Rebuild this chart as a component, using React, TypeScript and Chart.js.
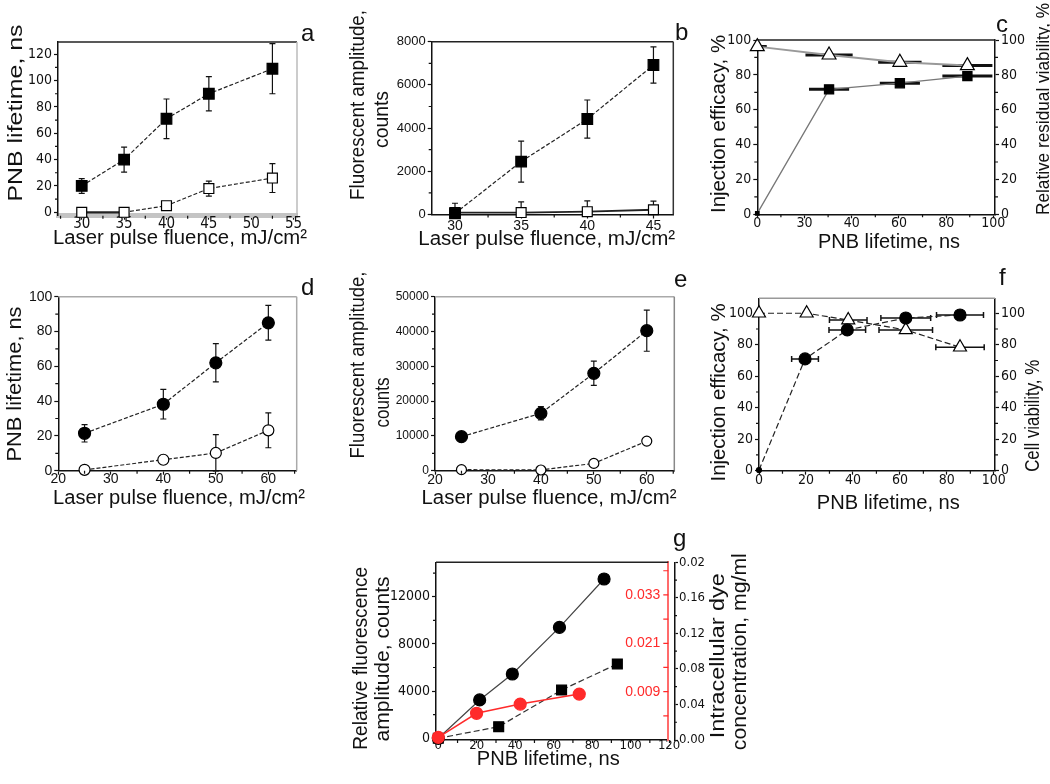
import React, { useEffect, useRef } from 'react';
import { Chart, registerables } from 'chart.js';
Chart.register(...registerables);

const FONT = '"Liberation Sans", Arial, sans-serif';
const NARROW = '"Liberation Sans Narrow", "Arial Narrow", "DejaVu Sans Condensed", sans-serif';
const INK = '#111';
const RED = '#ff2a2a';

// ---------------- Panel a ----------------
const aFluence = [30, 35, 40, 45, 52.5];
const aFilled = [20, 40, 71, 90, 109];
const aFilledErr = [5.6, 9.5, 15, 13, 19];
const aOpen = [0, 0, 5, 18, 26];
const aOpenErr = [0, 0, 3, 5.7, 11];
const aXTicks = [30, 35, 40, 45, 50, 55];
const aYTicks = [0, 20, 40, 60, 80, 100, 120];

// ---------------- Panel b ----------------
const bFluence = [30, 35, 40, 45];
const bFilled = [50, 2450, 4420, 6920];
const bFilledErr = [0, 950, 880, 840];
const bOpen = [90, 90, 130, 220];
const bOpenErr = [430, 490, 500, 400];
const bXTicks = [30, 35, 40, 45];
const bYTicks = [0, 2000, 4000, 6000, 8000];

// ---------------- Panel c ----------------
const cLifetime = [0, 30.4, 60.4, 89];
const cEfficacy = [0.5, 71.7, 75.2, 79.3];
const cEfficacyXErr = [0, 8.5, 8.5, 10.6];
const cViability = [96.2, 91.4, 87.2, 85.3];
const cViabilityXErr = [4, 10, 9.2, 10.6];
const cXTicks = [0, 20, 40, 60, 80, 100];
const cXLabels = ['0', '30', '40', '60', '80', '100'];
const cYTicks = [0, 20, 40, 60, 80, 100];

// ---------------- Panel d ----------------
const dFluence = [25, 40, 50, 60];
const dFilled = [21.5, 38.2, 62, 85];
const dFilledErr = [5, 8.5, 11, 10];
const dOpen = [0.5, 6.3, 10.2, 23.2];
const dOpenErr = [0.5, 2.5, 10.5, 10];
const dXTicks = [20, 30, 40, 50, 60];
const dYTicks = [0, 20, 40, 60, 80, 100];

// ---------------- Panel e ----------------
const eFluence = [25, 40, 50, 60];
const eFilled = [9770, 16490, 27990, 40230];
const eFilledErr = [700, 1900, 3500, 5900];
const eOpen = [300, 200, 2100, 8500];
const eOpenErr = [0, 0, 1000, 700];
const eXTicks = [20, 30, 40, 50, 60];
const eYTicks = [0, 10000, 20000, 30000, 40000, 50000];

// ---------------- Panel f ----------------
const fEffLifetime = [0, 19.6, 37.6, 62.5, 85.6];
const fEfficacy = [0.4, 71, 89.4, 97, 98.9];
const fEfficacyXErr = [0, 5.7, 7.8, 10.6, 10];
const fViaLifetime = [0, 20.3, 38, 62.5, 85.6];
const fViability = [100, 100, 95.7, 89.4, 78.4];
const fViabilityXErr = [0, 0, 8, 11.4, 10.3];
const fXTicks = [0, 20, 40, 60, 80, 100];
const fYTicks = [0, 20, 40, 60, 80, 100];

// ---------------- Panel g ----------------
const gCircLifetime = [0, 21.5, 38.5, 63, 86.2];
const gCircAmp = [0, 3250, 5450, 9400, 13500];
const gSqLifetime = [0, 31.4, 64.1, 93.1];
const gSqAmp = [0, 985, 4090, 6300];
const gRedLifetime = [0, 19.9, 42.6, 73.3];
const gRedAmp = [85, 2120, 2900, 3750];
const gXTicks = [0, 20, 40, 60, 80, 100, 120];
const gYTicks = [0, 4000, 8000, 12000];
const gConcTicks = [0, 0.04, 0.08, 0.12, 0.16, 0.2];
const gConcLabels = ['0.00', '0.04', '0.08', '0.12', '0.16', '0.02'];
const gRedTicks = [0.009, 0.021, 0.033];
const gRedLabels = ['0.009', '0.021', '0.033'];

// ---------------- helpers ----------------
const pts = (xs: number[], ys: number[]) => xs.map((x, i) => ({ x, y: ys[i] }));

function minorsOf(t: number[], lo: number, hi: number) {
  const s = t[1] - t[0];
  const out: number[] = [];
  for (let k = -1; k < t.length; k++) {
    const v = t[0] + (k + 0.5) * s;
    if (v >= lo - 1e-9 && v <= hi + 1e-9) out.push(v);
  }
  return out;
}

type AxOpt = {
  pos: 'left' | 'right' | 'bottom';
  min: number;
  max: number;
  ticks: number[];
  labels?: string[];
  size: number;
  font?: string;
  fontSize?: number;
  color?: string;
  border?: string;
  borderWidth?: number;
  tickLen?: number;
  pad?: number;
  weight?: number;
  mirror?: boolean;
  noTicks?: boolean;
};

function axis(o: AxOpt) {
  const horiz = o.pos === 'bottom';
  return {
    type: 'linear',
    position: o.pos,
    min: o.min,
    max: o.max,
    bounds: 'data',
    weight: o.weight ?? 0,
    afterBuildTicks: (s: any) => {
      s.ticks = o.ticks.map((v) => ({ value: v }));
    },
    afterFit: (s: any) => {
      if (horiz) s.height = o.size;
      else s.width = o.size;
    },
    ticks: {
      autoSkip: false,
      maxRotation: 0,
      minRotation: 0,
      mirror: !!o.mirror,
      padding: o.pad ?? 2,
      color: o.color ?? INK,
      font: { family: o.font ?? FONT, size: o.fontSize ?? 13 },
      callback: (_v: any, i: number) => (o.labels ? o.labels[i] : String(o.ticks[i])),
    },
    grid: {
      display: true,
      drawOnChartArea: false,
      drawTicks: !o.noTicks,
      tickLength: o.tickLen ?? 5,
      tickWidth: 1.2,
      tickColor: o.color ?? INK,
      color: 'rgba(0,0,0,0)',
    },
    border: { display: true, color: o.border ?? INK, width: o.borderWidth ?? 1.5 },
  };
}

type SerOpt = {
  data: { x: number; y: number }[];
  style: string;
  r: any;
  fill: string;
  stroke?: string;
  line?: string;
  lw?: number;
  dash?: number[];
  xId?: string;
  yId?: string;
  segment?: any;
  pbw?: number;
};

function series(o: SerOpt) {
  const d: any = {
    data: o.data,
    showLine: true,
    fill: false,
    tension: 0,
    clip: false,
    borderColor: o.line ?? '#222',
    borderWidth: o.lw ?? 1.2,
    borderDash: o.dash ?? [],
    pointStyle: o.style,
    pointRadius: o.r,
    pointHoverRadius: o.r,
    pointBackgroundColor: o.fill,
    pointBorderColor: o.stroke ?? '#000',
    pointBorderWidth: o.pbw ?? 1.2,
    xAxisID: o.xId ?? 'x',
    yAxisID: o.yId ?? 'y',
  };
  if (o.segment) d.segment = o.segment;
  return d;
}

type Txt = {
  t: string;
  x: number;
  y: number;
  size: number;
  rot?: number;
  len?: number;
  color?: string;
  align?: CanvasTextAlign;
  base?: CanvasTextBaseline;
};

type Err = { ds: number; y?: number[]; x?: number[]; color?: string; width?: number; cap?: number };
type Minor = { id: string; values: number[]; len: number; dir?: number; color?: string };

type Spec = {
  box: [number, number, number, number];
  plot: [number, number, number, number];
  padRight: number;
  scales: any;
  datasets: any[];
  errs: Err[];
  minors: Minor[];
  frame: { top?: string; right?: string; width?: number };
  texts: Txt[];
};

const title = (t: string, x: number, y: number, len: number, size = 20, rot = 0): Txt => ({ t, x, y, len, size, rot });
const letter = (t: string, x: number, y: number): Txt => ({ t, x, y, size: 24, align: 'left', base: 'alphabetic' });

function deco(spec: Spec) {
  const [bx, by] = spec.box;
  return {
    id: 'deco',
    beforeDatasetsDraw(chart: any) {
      const { ctx, chartArea: ca } = chart;
      ctx.save();
      ctx.beginPath();
      ctx.rect(ca.left - 1, ca.top - 1, ca.right - ca.left + 2, ca.bottom - ca.top + 2);
      ctx.clip();
      for (const e of spec.errs) {
        const ds = chart.data.datasets[e.ds];
        const xs = chart.scales[ds.xAxisID];
        const ys = chart.scales[ds.yAxisID];
        ctx.strokeStyle = e.color ?? INK;
        ctx.lineWidth = e.width ?? 1.2;
        ctx.setLineDash([]);
        const cap = e.cap ?? 3;
        ds.data.forEach((p: any, i: number) => {
          const px = xs.getPixelForValue(p.x);
          const py = ys.getPixelForValue(p.y);
          if (e.y && e.y[i]) {
            const y1 = ys.getPixelForValue(p.y + e.y[i]);
            const y2 = ys.getPixelForValue(p.y - e.y[i]);
            ctx.beginPath();
            ctx.moveTo(px, y1);
            ctx.lineTo(px, y2);
            if (cap) {
              ctx.moveTo(px - cap, y1);
              ctx.lineTo(px + cap, y1);
              ctx.moveTo(px - cap, y2);
              ctx.lineTo(px + cap, y2);
            }
            ctx.stroke();
          }
          if (e.x && e.x[i]) {
            const x1 = xs.getPixelForValue(p.x - e.x[i]);
            const x2 = xs.getPixelForValue(p.x + e.x[i]);
            ctx.beginPath();
            ctx.moveTo(x1, py);
            ctx.lineTo(x2, py);
            if (cap) {
              ctx.moveTo(x1, py - cap);
              ctx.lineTo(x1, py + cap);
              ctx.moveTo(x2, py - cap);
              ctx.lineTo(x2, py + cap);
            }
            ctx.stroke();
          }
        });
      }
      ctx.restore();
    },
    afterDraw(chart: any) {
      const { ctx, chartArea: ca } = chart;
      ctx.save();
      // frame
      ctx.lineWidth = spec.frame.width ?? 1.5;
      if (spec.frame.top) {
        ctx.strokeStyle = spec.frame.top;
        ctx.beginPath();
        ctx.moveTo(ca.left, ca.top);
        ctx.lineTo(ca.right, ca.top);
        ctx.stroke();
      }
      if (spec.frame.right) {
        ctx.strokeStyle = spec.frame.right;
        ctx.beginPath();
        ctx.moveTo(ca.right, ca.top);
        ctx.lineTo(ca.right, ca.bottom);
        ctx.stroke();
      }
      // minor ticks
      ctx.lineWidth = 1.2;
      for (const m of spec.minors) {
        const s = chart.scales[m.id];
        const dir = m.dir ?? 1;
        ctx.strokeStyle = m.color ?? INK;
        ctx.beginPath();
        for (const v of m.values) {
          const p = s.getPixelForValue(v);
          const pos = s.options.position;
          if (pos === 'bottom') {
            ctx.moveTo(p, s.top);
            ctx.lineTo(p, s.top + dir * m.len);
          } else if (pos === 'left') {
            ctx.moveTo(s.right, p);
            ctx.lineTo(s.right - dir * m.len, p);
          } else {
            ctx.moveTo(s.left, p);
            ctx.lineTo(s.left + dir * m.len, p);
          }
        }
        ctx.stroke();
      }
      // texts
      for (const t of spec.texts) {
        ctx.save();
        ctx.font = `${t.size}px ${FONT}`;
        ctx.fillStyle = t.color ?? INK;
        ctx.textAlign = t.align ?? 'center';
        ctx.textBaseline = t.base ?? 'middle';
        ctx.translate(t.x - bx, t.y - by);
        if (t.rot) ctx.rotate((t.rot * Math.PI) / 180);
        if (t.len) {
          const w = ctx.measureText(t.t).width;
          if (w > 0) ctx.scale(t.len / w, 1);
        }
        ctx.fillText(t.t, 0, 0);
        ctx.restore();
      }
      ctx.restore();
    },
  };
}

function makeConfig(spec: Spec) {
  return {
    type: 'line',
    data: { datasets: spec.datasets },
    options: {
      animation: false,
      responsive: false,
      events: [],
      layout: { padding: { left: 0, top: spec.plot[1] - spec.box[1], right: spec.padRight, bottom: 0 } },
      plugins: { legend: { display: false }, tooltip: { enabled: false } },
      scales: spec.scales,
    },
    plugins: [deco(spec)],
  };
}

// ---------------- panel specs ----------------
const specA: Spec = {
  box: [0, 0, 340, 255],
  plot: [58, 42, 297, 215.7],
  padRight: 43,
  scales: {
    x: axis({ pos: 'bottom', min: 27.2, max: 55.4, ticks: aXTicks, size: 39.3, font: NARROW, fontSize: 15, border: '#c4c4c4', borderWidth: 5, tickLen: 4, pad: -4.5 }),
    y: axis({ pos: 'left', min: -2.6, max: 129.3, ticks: aYTicks, size: 58, font: NARROW, fontSize: 14, tickLen: 4 }),
  },
  datasets: [
    series({ data: pts(aFluence, aFilled), style: 'rect', r: 7.5, fill: '#000', dash: [4, 2] }),
    series({
      data: pts(aFluence, aOpen),
      style: 'rect',
      r: 7,
      fill: '#fff',
      dash: [4, 2],
      segment: {
        borderDash: (c: any) => (c.p0DataIndex === 0 ? [] : undefined),
        borderWidth: (c: any) => (c.p0DataIndex === 0 ? 2.2 : undefined),
      },
    }),
  ],
  errs: [
    { ds: 0, y: aFilledErr },
    { ds: 1, y: aOpenErr },
  ],
  minors: [
    { id: 'x', values: minorsOf(aXTicks, 27.2, 55.4), len: 3 },
    { id: 'y', values: minorsOf(aYTicks, 0, 129.3), len: 3 },
  ],
  frame: { top: '#222', right: '#bbb' },
  texts: [
    title('Laser pulse fluence, mJ/cm²', 180, 238, 254),
    title('PNB lifetime, ns', 16, 113, 177, 21, -90),
    letter('a', 301, 41),
  ],
};

const specB: Spec = {
  box: [340, 0, 360, 255],
  plot: [431.7, 41.7, 673.3, 214.5],
  padRight: 26.7,
  scales: {
    x: axis({ pos: 'bottom', min: 28.24, max: 46.5, ticks: bXTicks, size: 40.5, fontSize: 14, tickLen: 4, pad: -1 }),
    y: axis({ pos: 'left', min: 0, max: 8000, ticks: bYTicks, size: 91.7, fontSize: 13, tickLen: 4 }),
  },
  datasets: [
    series({ data: pts(bFluence, bFilled), style: 'rect', r: 7.5, fill: '#000', dash: [4, 2] }),
    series({ data: pts(bFluence, bOpen), style: 'rect', r: 7, fill: '#fff', lw: 1.8 }),
  ],
  errs: [
    { ds: 0, y: bFilledErr },
    { ds: 1, y: bOpenErr },
  ],
  minors: [
    { id: 'x', values: minorsOf(bXTicks, 28.24, 46.5), len: 3 },
    { id: 'y', values: minorsOf(bYTicks, 0, 8000), len: 3 },
  ],
  frame: { top: '#222', right: '#333' },
  texts: [
    title('Laser pulse fluence, mJ/cm²', 546.7, 239, 257),
    title('Fluorescent amplitude,', 358.3, 105, 190, 20, -90),
    title('counts', 382.7, 119.5, 57, 20, -90),
    letter('b', 675, 40),
  ],
};

const specC: Spec = {
  box: [680, 0, 370, 255],
  plot: [757.3, 40, 995, 214.3],
  padRight: 0,
  scales: {
    x: axis({ pos: 'bottom', min: 0, max: 100.7, ticks: cXTicks, labels: cXLabels, size: 40.7, font: NARROW, fontSize: 14, tickLen: 4, pad: -3.4 }),
    y: axis({ pos: 'left', min: 0, max: 100, ticks: cYTicks, size: 77.3, font: NARROW, fontSize: 14, tickLen: 4 }),
    yR: axis({ pos: 'right', min: 0, max: 100, ticks: cYTicks, size: 55, font: NARROW, fontSize: 14, tickLen: 4 }),
  },
  datasets: [
    series({ data: pts(cLifetime, cEfficacy), style: 'rect', r: [2.5, 6.5, 6.5, 6.5], fill: '#000', line: '#777', lw: 1.3 }),
    series({ data: pts(cLifetime, cViability), style: 'triangle', r: 8, fill: '#fff', line: '#999', lw: 2, yId: 'yR' }),
  ],
  errs: [
    { ds: 0, x: cEfficacyXErr, width: 3, cap: 0 },
    { ds: 1, x: cViabilityXErr, width: 3, cap: 0 },
  ],
  minors: [
    { id: 'x', values: minorsOf(cXTicks, 0, 100.7), len: 3 },
    { id: 'y', values: minorsOf(cYTicks, 0, 100), len: 3 },
    { id: 'yR', values: minorsOf(cYTicks, 0, 100), len: 3 },
  ],
  frame: { top: '#222' },
  texts: [
    title('PNB lifetime, ns', 889, 242, 142),
    title('Injection efficacy, %', 719.3, 124, 178, 20, -90),
    title('Relative residual viability, %', 1043.3, 109, 212, 19, -90),
    letter('c', 996, 32),
  ],
};

const specD: Spec = {
  box: [0, 260, 340, 255],
  plot: [58.3, 296.7, 296.7, 470.7],
  padRight: 43.3,
  scales: {
    x: axis({ pos: 'bottom', min: 20, max: 65.4, ticks: dXTicks, size: 44.3, fontSize: 14, tickLen: 4, pad: -4 }),
    y: axis({ pos: 'left', min: 0, max: 100, ticks: dYTicks, size: 58.3, fontSize: 14, tickLen: 4 }),
  },
  datasets: [
    series({ data: pts(dFluence, dFilled), style: 'circle', r: 6, fill: '#000', dash: [4, 2] }),
    series({ data: pts(dFluence, dOpen), style: 'circle', r: 5.5, fill: '#fff', dash: [4, 2] }),
  ],
  errs: [
    { ds: 0, y: dFilledErr },
    { ds: 1, y: dOpenErr },
  ],
  minors: [
    { id: 'x', values: minorsOf(dXTicks, 20, 65.4), len: 3 },
    { id: 'y', values: minorsOf(dYTicks, 0, 100), len: 3 },
  ],
  frame: { top: '#aaa', right: '#aaa' },
  texts: [
    title('Laser pulse fluence, mJ/cm²', 179, 498, 252),
    title('PNB lifetime, ns', 15.7, 384, 155, 21, -90),
    letter('d', 301, 295),
  ],
};

const specE: Spec = {
  box: [340, 260, 360, 255],
  plot: [435, 296.7, 674.3, 470.7],
  padRight: 25.7,
  scales: {
    x: axis({ pos: 'bottom', min: 20, max: 65.2, ticks: eXTicks, size: 44.3, fontSize: 14, tickLen: 4, pad: -3 }),
    y: axis({ pos: 'left', min: 0, max: 50000, ticks: eYTicks, size: 95, fontSize: 12, tickLen: 4 }),
  },
  datasets: [
    series({ data: pts(eFluence, eFilled), style: 'circle', r: 6, fill: '#000', dash: [4, 2] }),
    series({ data: pts(eFluence, eOpen), style: 'circle', r: 5, fill: '#fff', dash: [4, 2] }),
  ],
  errs: [
    { ds: 0, y: eFilledErr },
    { ds: 1, y: eOpenErr },
  ],
  minors: [
    { id: 'x', values: minorsOf(eXTicks, 20, 65.2), len: 3 },
    { id: 'y', values: minorsOf(eYTicks, 0, 50000), len: 3 },
  ],
  frame: { top: '#aaa', right: '#888' },
  texts: [
    title('Laser pulse fluence, mJ/cm²', 549, 498, 255),
    title('Fluorescent amplitude,', 358.3, 365, 187, 20, -90),
    title('counts', 383.3, 402.5, 50, 20, -90),
    letter('e', 674, 287),
  ],
};

const specF: Spec = {
  box: [680, 260, 370, 255],
  plot: [759, 298.3, 995, 470.7],
  padRight: 0,
  scales: {
    x: axis({ pos: 'bottom', min: 0, max: 100.5, ticks: fXTicks, size: 44.3, font: NARROW, fontSize: 14, tickLen: 4, pad: -3 }),
    y: axis({ pos: 'left', min: 0, max: 109.5, ticks: fYTicks, size: 79, font: NARROW, fontSize: 14, tickLen: 4 }),
    yR: axis({ pos: 'right', min: 0, max: 109.5, ticks: fYTicks, size: 55, font: NARROW, fontSize: 14, tickLen: 4 }),
  },
  datasets: [
    series({ data: pts(fEffLifetime, fEfficacy), style: 'circle', r: [2.5, 6, 6, 6, 6], fill: '#000', dash: [6, 3] }),
    series({ data: pts(fViaLifetime, fViability), style: 'triangle', r: 7.5, fill: '#fff', dash: [6, 3], yId: 'yR' }),
  ],
  errs: [
    { ds: 0, x: fEfficacyXErr, width: 1.5, cap: 3 },
    { ds: 1, x: fViabilityXErr, width: 1.5, cap: 3 },
  ],
  minors: [
    { id: 'x', values: minorsOf(fXTicks, 0, 100.5), len: 3 },
    { id: 'y', values: minorsOf(fYTicks, 0, 109.5), len: 3 },
    { id: 'yR', values: minorsOf(fYTicks, 0, 109.5), len: 3 },
  ],
  frame: { top: '#999' },
  texts: [
    title('PNB lifetime, ns', 888.3, 503.3, 143),
    title('Injection efficacy, %', 719.3, 392.5, 178, 20, -90),
    title('Cell viability, %', 1033.3, 415.8, 112, 20, -90),
    letter('f', 999, 285),
  ],
};

const specG: Spec = {
  box: [330, 520, 420, 264],
  plot: [436, 562.3, 668.3, 740],
  padRight: 0,
  scales: {
    x: axis({ pos: 'bottom', min: -1.2, max: 119.6, ticks: gXTicks, size: 44, font: NARROW, fontSize: 13, tickLen: 3, pad: -4.8 }),
    y: axis({ pos: 'left', min: -144, max: 14915, ticks: gYTicks, size: 106, font: NARROW, fontSize: 14, tickLen: 4 }),
    yRed: axis({
      pos: 'right', min: -0.003, max: 0.0411, ticks: gRedTicks, labels: gRedLabels, size: 6.7, fontSize: 14,
      color: RED, border: '#ff6b6b', borderWidth: 2, mirror: true, pad: -8, noTicks: true, weight: 0,
    }),
    yR: axis({
      pos: 'right', min: 0, max: 0.2, ticks: gConcTicks, labels: gConcLabels, size: 75, font: NARROW, fontSize: 13,
      tickLen: 3, pad: 1, weight: 1,
    }),
  },
  datasets: [
    series({ data: pts(gRedLifetime, gRedAmp), style: 'circle', r: 6, fill: RED, stroke: RED, line: RED, lw: 1.5 }),
    series({ data: pts(gCircLifetime, gCircAmp), style: 'circle', r: 6, fill: '#000', line: '#444', lw: 1.2 }),
    series({ data: pts(gSqLifetime, gSqAmp), style: 'rect', r: 7, fill: '#000', line: '#333', lw: 1.2, dash: [6, 3] }),
  ],
  errs: [],
  minors: [
    { id: 'x', values: minorsOf(gXTicks, -1.2, 119.6), len: 3 },
    { id: 'y', values: minorsOf(gYTicks, 0, 14915), len: 3 },
    { id: 'yR', values: minorsOf(gConcTicks, 0, 0.2), len: 2 },
    { id: 'yRed', values: gRedTicks, len: 5, dir: -1, color: RED },
    { id: 'yRed', values: minorsOf(gRedTicks, 0, 0.0411), len: 5, dir: -1, color: RED },
  ],
  frame: { top: '#222' },
  texts: [
    title('PNB lifetime, ns', 548.3, 759, 143),
    title('Relative fluorescence', 361.7, 658.3, 183, 20, -90),
    title('amplitude, counts', 383.3, 659, 165, 20, -90),
    title('Intracellular dye', 718.3, 655.8, 165, 20, -90),
    title('concentration, mg/ml', 740, 651.7, 197, 20, -90),
    letter('g', 673, 546),
  ],
};

const SPECS: Spec[] = [specA, specB, specC, specD, specE, specF, specG];

function Panel({ spec }: { spec: Spec }) {
  const ref = useRef<HTMLCanvasElement | null>(null);
  useEffect(() => {
    const chart = new Chart(ref.current as HTMLCanvasElement, makeConfig(spec) as any);
    return () => chart.destroy();
  }, [spec]);
  const [l, t, w, h] = spec.box;
  return (
    <canvas
      ref={ref}
      width={w}
      height={h}
      style={{ position: 'absolute', left: l, top: t, width: w, height: h }}
    />
  );
}

export default function App() {
  return (
    <div
      style={{
        position: 'absolute',
        left: 0,
        top: 0,
        width: 1050,
        height: 784,
        background: '#fff',
        overflow: 'hidden',
      }}
    >
      {SPECS.map((s, i) => (
        <Panel key={i} spec={s} />
      ))}
    </div>
  );
}
